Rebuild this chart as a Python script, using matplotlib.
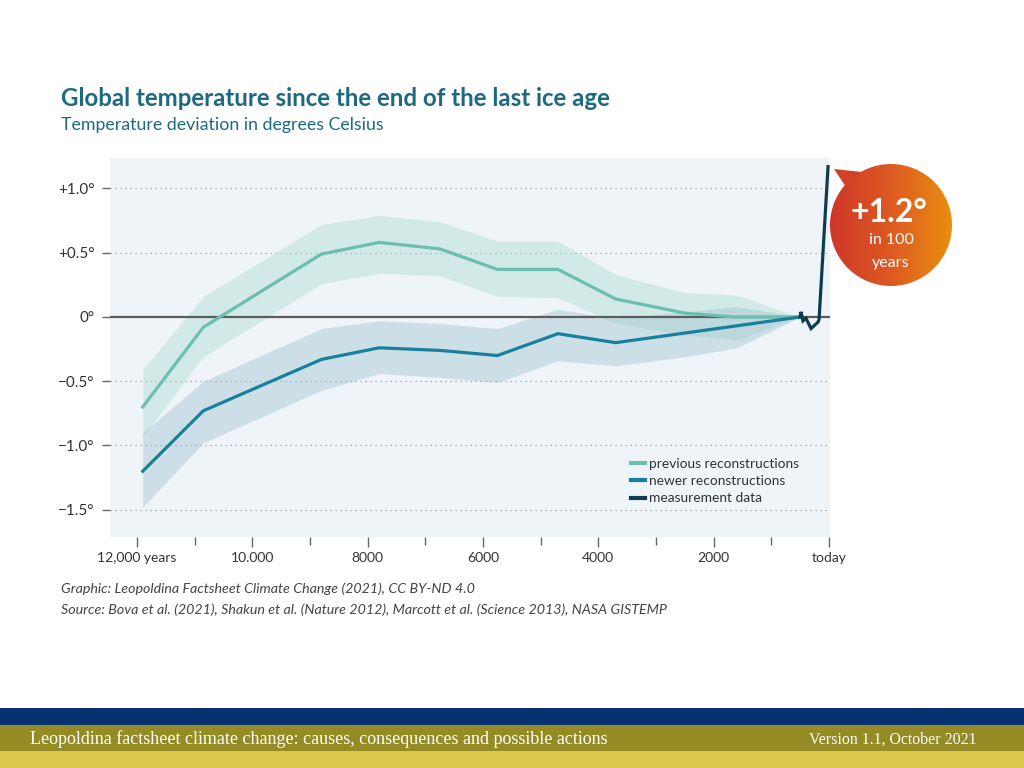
import numpy as np
import matplotlib
matplotlib.use("Agg")
import matplotlib.pyplot as plt
from matplotlib.patches import Circle, Polygon, Rectangle
from matplotlib.lines import Line2D
from matplotlib.colors import LinearSegmentedColormap

plt.rcParams['font.family'] = ['Lato', 'DejaVu Sans']

# ---------------- data (years before today, deviation in °C) ----------------
band_years = [11900, 10850, 8800, 7800, 6750, 5750, 4700, 3700, 2500, 1600, 500]

prev_years = [11900, 10850, 8800, 7800, 6750, 5750, 4700, 3700, 2500, 1650, 500]
prev_vals = [-0.70, -0.08, 0.49, 0.58, 0.53, 0.37, 0.37, 0.14, 0.03, 0.0, 0.0]
prev_upper = [-0.41, 0.16, 0.72, 0.79, 0.74, 0.59, 0.59, 0.33, 0.19, 0.17, 0.0]
prev_lower = [-0.93, -0.31, 0.26, 0.34, 0.32, 0.16, 0.15, -0.05, -0.14, -0.18, 0.0]

new_years = [11900, 10850, 8800, 7800, 6750, 5750, 4700, 3700, 500]
new_vals = [-1.20, -0.73, -0.33, -0.24, -0.26, -0.30, -0.13, -0.20, 0.0]
new_upper = [-0.90, -0.50, -0.09, -0.03, -0.05, -0.09, 0.06, -0.01, 0.04, 0.08, 0.0]
new_lower = [-1.48, -0.98, -0.57, -0.44, -0.47, -0.51, -0.34, -0.38, -0.31, -0.24, 0.0]

meas_years = [500, 486, 451, 399, 312, 191, 173, 17]
meas_vals = [0.0, 0.04, -0.03, -0.01, -0.09, -0.04, -0.02, 1.17]

xtick_pos = [12000, 10000, 8000, 6000, 4000, 2000, 0]
xtick_labels = ["12,000 years", "10.000", "8000", "6000", "4000", "2000", "today"]
ytick_pos = [1.0, 0.5, 0.0, -0.5, -1.0, -1.5]
ytick_labels = ["+1.0°", "+0.5°", "0°", "\u22120.5°", "\u22121.0°", "\u22121.5°"]

legend_labels = ["previous reconstructions", "newer reconstructions", "measurement data"]

# ---------------- colours ----------------
C_TITLE = "#1d6a80"
C_PREV = "#6cbfae"
C_NEW = "#17809c"
C_MEAS = "#0d3b4f"
C_BG = "#eef4f8"

W, H = 1024, 768
fig = plt.figure(figsize=(W / 100, H / 100), dpi=100)
fig.patch.set_facecolor("white")


def fr(x0, y0, x1, y1):
    return [x0 / W, 1 - y1 / H, (x1 - x0) / W, (y1 - y0) / H]


ax = fig.add_axes(fr(110, 158, 830, 537))
ax.set_facecolor(C_BG)
for s in ax.spines.values():
    s.set_visible(False)

ax.fill_between(band_years, prev_lower, prev_upper, color="#a9dcd0", alpha=0.42, lw=0, zorder=1)
ax.fill_between(band_years, new_lower, new_upper, color="#9cc0cc", alpha=0.40, lw=0, zorder=1)

for yv in [1.0, 0.5, -0.5, -1.0, -1.5]:
    ax.axhline(yv, color="#9a9a9a", lw=0.9, ls=(0, (1, 3)), zorder=0.5)
ax.axhline(0, color="#5c5c5c", lw=1.6, zorder=2)

ax.plot(prev_years, prev_vals, color=C_PREV, lw=2.3, zorder=3, solid_joinstyle="miter")
ax.plot(new_years, new_vals, color=C_NEW, lw=2.3, zorder=3, solid_joinstyle="miter")
ax.plot(meas_years, meas_vals, color=C_MEAS, lw=2.3, zorder=4, solid_joinstyle="miter")

ax.set_xlim(12468, -17)
ax.set_ylim(-1.712, 1.237)

ax.set_xticks(xtick_pos)
ax.set_xticklabels(xtick_labels)
ax.set_xticks(np.arange(1000, 12000, 2000), minor=True)
ax.set_yticks(ytick_pos)
ax.set_yticklabels(ytick_labels)
ax.tick_params(axis="x", which="major", length=7, width=1, color="#666666",
               labelsize=10, labelcolor="#333333", pad=4)
ax.tick_params(axis="x", which="minor", length=6, width=1, color="#666666")
ax.tick_params(axis="y", length=6, width=1, color="#666666",
               labelsize=11, labelcolor="#333333", pad=5)

handles = [Line2D([], [], color=c, lw=3) for c in (C_PREV, C_NEW, C_MEAS)]
leg = ax.legend(handles, legend_labels, loc="upper left",
                bbox_to_anchor=(624 / W, 1 - 451 / H), bbox_transform=fig.transFigure,
                frameon=False, fontsize=9.9, handlelength=1.05, handletextpad=0.3,
                labelspacing=0.38, borderpad=0)
for t in leg.get_texts():
    t.set_color("#333333")

# ---------------- overlay in pixel coordinates ----------------
ov = fig.add_axes([0, 0, 1, 1])
ov.set_xlim(0, W)
ov.set_ylim(H, 0)
ov.axis("off")
ov.patch.set_visible(False)

# callout bubble
cx, cy, r = 891, 225, 61
ptr = Polygon([[834, 169], [846, 187], [862, 172]], closed=True, fc="#d3402a", ec="none")
ov.add_patch(ptr)
grad = np.linspace(0, 1, 256).reshape(1, -1)
cmap = LinearSegmentedColormap.from_list("bub", ["#cf3629", "#dd5a22", "#e98e0f"])
im = ov.imshow(grad, cmap=cmap, extent=(cx - r, cx + r, cy + r, cy - r), aspect="auto",
               interpolation="bilinear", zorder=2)
circ = Circle((cx, cy), r, transform=ov.transData, fc="none", ec="none")
ov.add_patch(circ)
im.set_clip_path(circ)
ov.set_xlim(0, W)
ov.set_ylim(H, 0)
ov.text(cx - 2, 212, "+1.2°", color="white", fontsize=23, fontweight="bold",
        ha="center", va="center", zorder=3)
ov.text(cx, 240, "in 100", color="white", fontsize=11.5, ha="center", va="center", zorder=3)
ov.text(cx, 263, "years", color="white", fontsize=11.5, ha="center", va="center", zorder=3)

# footer bands
ov.add_patch(Rectangle((0, 708), W, 17, fc="#08326f", ec="none"))
ov.add_patch(Rectangle((0, 725), W, 26, fc="#958b24", ec="none"))
ov.add_patch(Rectangle((0, 751), W, 17, fc="#dcc64c", ec="none"))
ov.text(30, 739, "Leopoldina factsheet climate change: causes, consequences and possible actions",
        family="Liberation Serif", color="white", fontsize=13, ha="left", va="center")
ov.text(977, 740, "Version 1.1, October 2021", family="Liberation Serif", color="white",
        fontsize=11.4, ha="right", va="center")

# titles and notes
ov.text(61, 99, "Global temperature since the end of the last ice age", color=C_TITLE,
        fontsize=17.3, fontweight="bold", ha="left", va="center")
ov.text(61, 125, "Temperature deviation in degrees Celsius", color=C_TITLE,
        fontsize=12.8, ha="left", va="center")
ov.text(61, 589, "Graphic: Leopoldina Factsheet Climate Change (2021), CC BY-ND 4.0",
        color="#444444", fontsize=10.3, style="italic", ha="left", va="center")
ov.text(61, 610, "Source: Bova et al. (2021), Shakun et al. (Nature 2012), Marcott et al. (Science 2013), NASA GISTEMP",
        color="#444444", fontsize=10.3, style="italic", ha="left", va="center")

fig.savefig("out.png", dpi=100, facecolor="white")
